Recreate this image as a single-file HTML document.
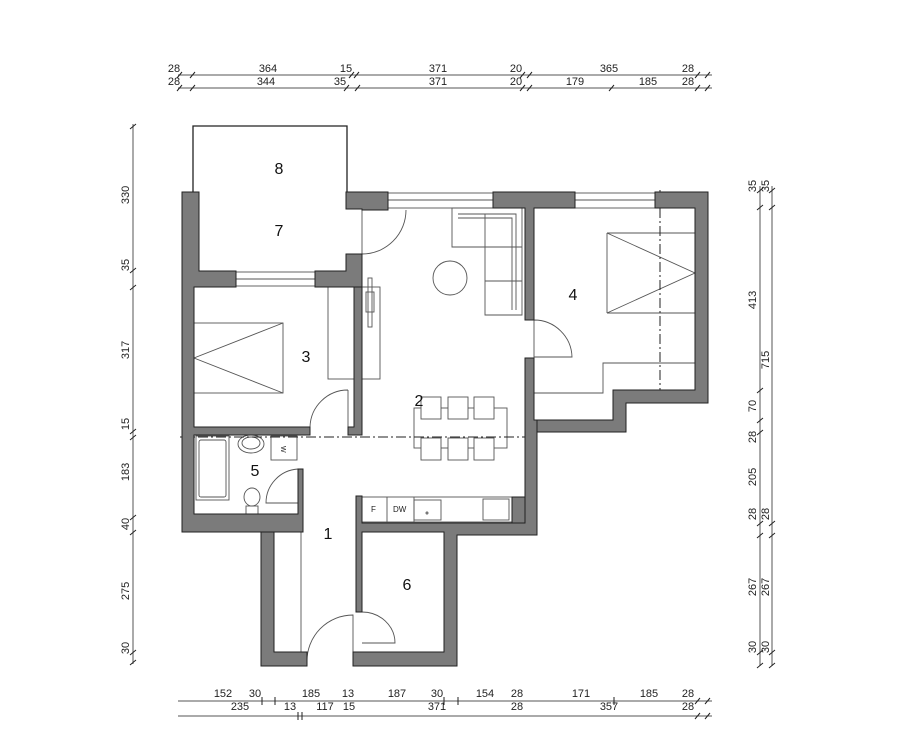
<!DOCTYPE html>
<html><head><meta charset="utf-8"><style>html,body{margin:0;padding:0;background:#fff}svg{display:block}</style></head>
<body>
<svg width="900" height="740" viewBox="0 0 900 740" xmlns="http://www.w3.org/2000/svg" font-family="Liberation Sans, sans-serif">
<rect width="900" height="740" fill="#fff"/>
<!-- dimension lines -->
<g stroke="#555" stroke-width="1" fill="none">
<line x1="178" y1="75" x2="712" y2="75"/>
<line x1="178" y1="88" x2="712" y2="88"/>
<line x1="178" y1="701" x2="712" y2="701"/>
<line x1="178" y1="716" x2="712" y2="716"/>
<line x1="133" y1="124" x2="133" y2="664"/>
<line x1="760" y1="186" x2="760" y2="666"/>
<line x1="772" y1="186" x2="772" y2="666"/>
</g>
<g stroke="#222" stroke-width="1">
<path d="M177 78l5-6M190 78l5-6M349 78l5-6M354 78l5-6M520 78l5-6M527 78l5-6M695 78l5-6M705 78l5-6"/>
<path d="M177 91l5-6M190 91l5-6M344 91l5-6M355 91l5-6M520 91l5-6M527 91l5-6M609 91l5-6M695 91l5-6M705 91l5-6"/>
<path d="M262 697v8M275 697v8M444 697v8M458 697v8M614 697v8M695 704l5-6M705 704l5-6"/>
<path d="M298 712v8M302 712v8M695 719l5-6M705 719l5-6"/>
<path d="M130 129l6-5M130 273l6-5M130 290l6-5M130 434l6-5M130 440l6-5M130 520l6-5M130 535l6-5M130 655l6-5M130 665l6-5"/>
<path d="M757 193l6-5M757 210l6-5M757 393l6-5M757 423l6-5M757 435l6-5M757 526l6-5M757 538l6-5M757 655l6-5M757 668l6-5"/>
<path d="M769 193l6-5M769 210l6-5M769 526l6-5M769 538l6-5M769 655l6-5M769 668l6-5"/>
</g>
<g font-size="11" fill="#222" text-anchor="middle">
<text x="174" y="72">28</text><text x="268" y="72">364</text><text x="346" y="72">15</text><text x="438" y="72">371</text><text x="516" y="72">20</text><text x="609" y="72">365</text><text x="688" y="72">28</text>
<text x="174" y="85">28</text><text x="266" y="85">344</text><text x="340" y="85">35</text><text x="438" y="85">371</text><text x="516" y="85">20</text><text x="575" y="85">179</text><text x="648" y="85">185</text><text x="688" y="85">28</text>
<text x="223" y="697">152</text><text x="255" y="697">30</text><text x="311" y="697">185</text><text x="348" y="697">13</text><text x="397" y="697">187</text><text x="437" y="697">30</text><text x="485" y="697">154</text><text x="517" y="697">28</text><text x="581" y="697">171</text><text x="649" y="697">185</text><text x="688" y="697">28</text>
<text x="240" y="710">235</text><text x="290" y="710">13</text><text x="325" y="710">117</text><text x="349" y="710">15</text><text x="437" y="710">371</text><text x="517" y="710">28</text><text x="609" y="710">357</text><text x="688" y="710">28</text>
<g transform="rotate(-90)">
<text x="-195" y="129">330</text><text x="-265" y="129">35</text><text x="-350" y="129">317</text><text x="-424" y="129">15</text><text x="-472" y="129">183</text><text x="-524" y="129">40</text><text x="-591" y="129">275</text><text x="-648" y="129">30</text>
<text x="-186" y="756">35</text><text x="-186" y="769">35</text><text x="-300" y="756">413</text><text x="-360" y="769">715</text><text x="-406" y="756">70</text><text x="-437" y="756">28</text><text x="-477" y="756">205</text><text x="-514" y="756">28</text><text x="-514" y="769">28</text><text x="-587" y="756">267</text><text x="-587" y="769">267</text><text x="-647" y="756">30</text><text x="-647" y="769">30</text>
</g>
</g>
<!-- balcony outline -->
<path d="M193 192V126H347V192" fill="none" stroke="#222" stroke-width="1.3"/>
<!-- floor lines / fixtures -->
<g fill="none" stroke="#555" stroke-width="0.9">
<!-- windows -->
<rect x="236" y="272" width="79" height="14"/><line x1="236" y1="279" x2="315" y2="279"/>
<rect x="388" y="193" width="105" height="15"/><line x1="388" y1="200" x2="493" y2="200"/>
<rect x="575" y="193" width="80" height="15"/><line x1="575" y1="200" x2="655" y2="200"/>
<!-- sofa -->
<path d="M452 208H522V315H485V247H452Z"/>
<path d="M458 214H516V310M458 218H512V310M485 214V247M485 281H522M485 247H522"/>
<circle cx="450" cy="278" r="17"/>
<!-- wardrobe/tv -->
<rect x="328" y="287" width="52" height="92"/>
<rect x="368" y="278" width="4" height="49"/><rect x="366" y="292" width="8" height="20"/>
<!-- bed 3 -->
<rect x="194" y="323" width="89" height="70"/><path d="M283 323L194 358L283 393"/>
<!-- dining -->
<rect x="414" y="408" width="93" height="40" fill="#fff"/>
<rect x="421" y="397" width="20" height="22" fill="#fff"/><rect x="448" y="397" width="20" height="22" fill="#fff"/><rect x="474" y="397" width="20" height="22" fill="#fff"/>
<rect x="421" y="438" width="20" height="22" fill="#fff"/><rect x="448" y="438" width="20" height="22" fill="#fff"/><rect x="474" y="438" width="20" height="22" fill="#fff"/>
<!-- bed 4 -->
<path d="M607 233H695M607 313H695M607 233V313M607 233L695 273L607 313"/>
<path d="M534 393H603V363H695"/>
<!-- bathroom -->
<rect x="196" y="436" width="33" height="64"/><rect x="199" y="440" width="27" height="57" rx="2"/>
<ellipse cx="251" cy="444" rx="13" ry="9"/><ellipse cx="251" cy="443" rx="9" ry="6"/>
<rect x="271" y="436" width="26" height="24"/>
<ellipse cx="252" cy="497" rx="8" ry="9"/><rect x="246" y="506" width="12" height="8"/>
<line x1="299" y1="469" x2="299" y2="503"/>
<!-- corridor -->
<line x1="301" y1="532" x2="301" y2="652"/>
<!-- kitchen -->
<rect x="362" y="497" width="150" height="25"/>
<line x1="387" y1="497" x2="387" y2="522"/><line x1="414" y1="497" x2="414" y2="522"/>
<rect x="414" y="500" width="27" height="20"/><circle cx="427" cy="513" r="1"/>
<rect x="483" y="499" width="26" height="21"/>
<!-- doors -->
<path d="M362 210V254M362 254A44 44 0 0 0 406 210"/>
<path d="M348 390V427M348 390A38 38 0 0 0 310 427"/>
<path d="M298 469A34 34 0 0 0 266 503H298"/>
<path d="M534 320V357H572A38 38 0 0 0 534 320"/>
<path d="M353 652V615A46 46 0 0 0 307 662"/>
<path d="M362 612A33 31 0 0 1 395 643H362"/>
</g>
<g font-size="8" fill="#222"><text x="371" y="512">F</text><text x="393" y="512">DW</text><text x="282" y="451" font-size="7" transform="rotate(90 284 448)">W</text></g>
<!-- axis lines -->
<g stroke="#222" stroke-width="1" stroke-dasharray="10 3 2 3" fill="none">
<line x1="180" y1="437" x2="540" y2="437"/>
<line x1="660" y1="190" x2="660" y2="404"/>
</g>
<!-- walls -->
<g fill="#7b7b7b" stroke="#222" stroke-width="1">
<path d="M182 192H199V271H236V287H194V427H310V435H194V514H298V469H303V532H182Z"/>
<path d="M315 271H346V254H362V287H315Z"/>
<path d="M354 287H362V435H348V427H354Z"/>
<path d="M346 192H388V210H362V209H346Z"/>
<path d="M493 192H575V208H534V320H525V208H493Z"/>
<path d="M655 192H708V403H626V432H534V420H613V390H695V208H655Z"/>
<path d="M525 358H534V420H537V535H457V666H353V652H444V532H362V612H356V496H362V523H525Z"/>
<path d="M261 532H274V652H307V666H261Z"/>
<path d="M512 497H525V523H512Z"/>
</g>
<!-- room labels -->
<g font-size="16" fill="#111" text-anchor="middle">
<text x="279" y="174">8</text><text x="279" y="236">7</text><text x="306" y="362">3</text><text x="419" y="406">2</text><text x="573" y="300">4</text><text x="255" y="476">5</text><text x="328" y="539">1</text><text x="407" y="590">6</text>
</g>
</svg>
</body></html>
